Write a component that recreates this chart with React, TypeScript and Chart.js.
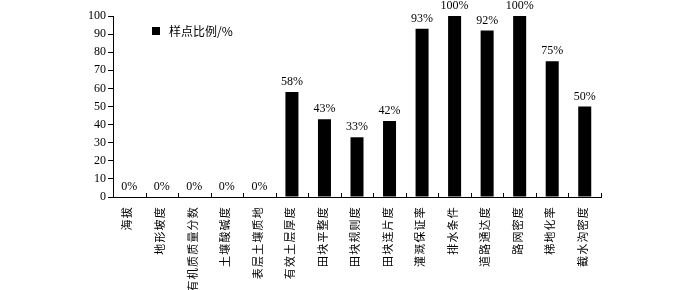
import React, { useEffect, useRef } from "react";
import { Chart, registerables } from "chart.js";

Chart.register(...registerables);

const categories = ["海拔", "地形坡度", "有机质质量分数", "土壤酸碱度", "表层土壤质地", "有效土层厚度", "田块平整度", "田块规则度", "田块连片度", "灌溉保证率", "排水条件", "道路通达度", "路网密度", "梯地化率", "截水沟密度"];
const values = [0, 0, 0, 0, 0, 58, 43, 33, 42, 93, 100, 92, 100, 75, 50];
const valueLabels = ["0%", "0%", "0%", "0%", "0%", "58%", "43%", "33%", "42%", "93%", "100%", "92%", "100%", "75%", "50%"];
const seriesName = "样点比例/%";

const SERIF = "'Liberation Serif', 'Times New Roman', serif";
const CJK = "'Noto Sans CJK SC', sans-serif";

const overlay = {
  id: "overlay",
  afterDatasetsDraw(chart: any) {
    const ctx = chart.ctx;
    const meta = chart.getDatasetMeta(0);
    const xs = chart.scales.x;
    const area = chart.chartArea;
    ctx.save();
    // value labels
    ctx.fillStyle = "#000";
    ctx.font = "12px " + SERIF;
    ctx.textAlign = "center";
    ctx.textBaseline = "bottom";
    meta.data.forEach((bar: any, i: number) => {
      ctx.fillText(valueLabels[i], bar.x, bar.y - 4);
    });
    // x tick marks (inward) at category boundaries
    ctx.strokeStyle = "#000";
    ctx.lineWidth = 1;
    for (let i = 0; i <= categories.length; i++) {
      const x = Math.round(xs.getPixelForValue(i - 0.5)) + 0.5;
      ctx.beginPath();
      ctx.moveTo(x, area.bottom);
      ctx.lineTo(x, area.bottom - 4);
      ctx.stroke();
    }
    // x category labels, rotated, with letter spacing
    ctx.font = "11px " + CJK;
    (ctx as any).letterSpacing = "1.2px";
    ctx.textAlign = "right";
    ctx.textBaseline = "middle";
    categories.forEach((c, i) => {
      const x = xs.getPixelForValue(i) - 2;
      ctx.save();
      ctx.translate(x, area.bottom + 9);
      ctx.rotate(-Math.PI / 2);
      ctx.fillText(c, 0, 0);
      ctx.restore();
    });
    (ctx as any).letterSpacing = "0px";
    // legend
    ctx.fillStyle = "#000";
    ctx.fillRect(area.left + 39, 27, 8, 8);
    ctx.font = "12px " + CJK;
    ctx.textAlign = "left";
    ctx.textBaseline = "middle";
    ctx.fillText(seriesName, area.left + 56, 31);
    ctx.restore();
  },
};

export default function App() {
  const ref = useRef<HTMLCanvasElement>(null);
  useEffect(() => {
    if (!ref.current) return;
    const chart = new Chart(ref.current, {
      type: "bar",
      data: {
        labels: categories,
        datasets: [
          {
            label: seriesName,
            data: values,
            backgroundColor: "#000",
            borderColor: "#000",
            barPercentage: 0.4,
            categoryPercentage: 1,
          },
        ],
      },
      options: {
        animation: false,
        responsive: false,
        maintainAspectRatio: false,
        layout: { padding: { top: 16, right: 99, left: 0, bottom: 0 } },
        plugins: { legend: { display: false }, tooltip: { enabled: false } },
        scales: {
          x: {
            offset: true,
            grid: { display: false, drawTicks: false },
            border: { color: "#000", width: 1 },
            afterFit: (s: any) => {
              s.height = 93;
            },
            ticks: { display: false, autoSkip: false },
          },
          y: {
            min: 0,
            max: 100,
            afterFit: (s: any) => {
              s.width = 113;
            },
            grid: { display: true, drawOnChartArea: false, drawTicks: true, tickLength: 5, color: "#000" },
            border: { color: "#000", width: 1 },
            ticks: {
              stepSize: 10,
              color: "#000",
              font: { family: SERIF, size: 12 },
              padding: 2,
            },
          },
        },
      },
      plugins: [overlay],
    });
    return () => chart.destroy();
  }, []);
  return (
    <div style={{ position: "absolute", left: 0, top: 0, width: 700, height: 290, background: "#fff" }}>
      <canvas ref={ref} width={700} height={290} style={{ width: 700, height: 290 }} />
    </div>
  );
}
